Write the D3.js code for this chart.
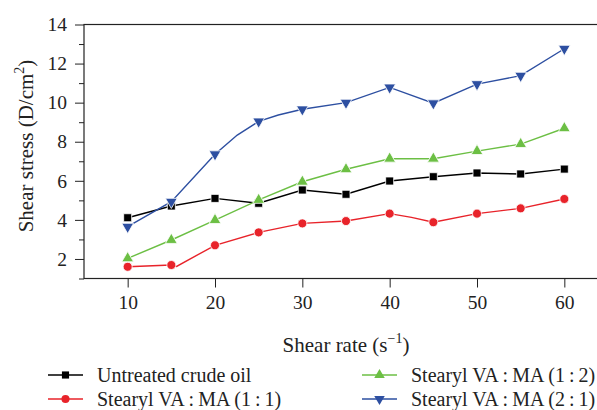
<!DOCTYPE html>
<html>
<head>
<meta charset="utf-8">
<script src="https://cdn.jsdelivr.net/npm/d3@7/dist/d3.min.js"></script>
<style>
  body { margin: 0; background: #fff; }
  svg { display: block; font-family: "Liberation Serif", "Times New Roman", serif; }
</style>
</head>
<body>
<svg id="chart" width="597" height="410"></svg>
<script>
// shear rate (s^-1)
var rates = [10, 15, 20, 25, 30, 35, 40, 45, 50, 55, 60];
var crude = [4.11, 4.71, 5.10, 4.85, 5.53, 5.31, 5.99, 6.21, 6.40, 6.35, 6.60];
var va11 = [1.60, 1.69, 2.70, 3.36, 3.82, 3.94, 4.32, 3.88, 4.32, 4.59, 5.07];
var va12 = [2.03, 2.97, 3.99, 5.02, 5.95, 6.59, 7.13, 7.13, 7.52, 7.88, 8.69];
var va21 = [3.65, 4.93, 7.36, 9.04, 9.66, 10.00, 10.78, 9.97, 10.95, 11.38, 12.76];
// extra unmarked bends in the drawn lines
var va11Bends = [[15.6, 1.62], [42.5, 4.13]];
var va21Bends = [[22.55, 8.34], [27.25, 9.37]];
var yTicks = [2, 4, 6, 8, 10, 12, 14];
var xTicks = [10, 20, 30, 40, 50, 60];

var series = [
  {name: 'Untreated crude oil', values: crude, bends: [], color: '#000000', sym: d3.symbolSquare, size: 64, rot: 0},
  {name: 'Stearyl VA\u2009:\u2009MA (1\u2009:\u20091)', values: va11, bends: va11Bends, color: '#e8232a', sym: d3.symbolCircle, size: 64, rot: 0},
  {name: 'Stearyl VA\u2009:\u2009MA (1\u2009:\u20092)', values: va12, bends: [], color: '#6cbf44', sym: d3.symbolTriangle, size: 60, rot: 0},
  {name: 'Stearyl VA\u2009:\u2009MA (2\u2009:\u20091)', values: va21, bends: va21Bends, color: '#2d4fa1', sym: d3.symbolTriangle, size: 60, rot: 180}
];

var svg = d3.select('#chart');
var plotL = 84, plotR = 608, plotT = 24.5, plotB = 278.5;

var x = d3.scaleLinear().domain([5, 65]).range([plotL, plotR]);
var y = d3.scaleLinear().domain([1, 14]).range([plotB, plotT]);

// frame
svg.append('rect')
    .attr('x', plotL).attr('y', plotT)
    .attr('width', plotR - plotL).attr('height', plotB - plotT)
    .attr('fill', 'none').attr('stroke', '#222').attr('stroke-width', 1.2);

function styleAxis(g) {
  g.attr('font-family', null).attr('font-size', null);
  g.select('.domain').remove();
  g.selectAll('line').attr('stroke', '#222');
  g.selectAll('text').attr('font-size', 19.5).attr('fill', '#222');
}

// y axis
svg.append('g')
    .attr('transform', 'translate(' + plotL + ',0)')
    .call(d3.axisLeft(y).tickValues(yTicks).tickSize(9).tickPadding(8).tickFormat(d3.format('d')))
    .call(styleAxis);
svg.append('g')
    .attr('transform', 'translate(' + plotL + ',0)')
    .call(d3.axisLeft(y).tickValues([1, 3, 5, 7, 9, 11, 13]).tickSize(5).tickFormat(''))
    .call(styleAxis);

// x axis
svg.append('g')
    .attr('transform', 'translate(0,' + plotB + ')')
    .call(d3.axisBottom(x).tickValues(xTicks).tickSize(9).tickPadding(8))
    .call(styleAxis);

// axis titles
var xt = svg.append('text')
    .attr('x', (plotL + plotR) / 2).attr('y', 352)
    .attr('text-anchor', 'middle').attr('font-size', 21).attr('fill', '#222');
xt.append('tspan').text('Shear rate (s');
xt.append('tspan').attr('font-size', 14).attr('dy', -9).text('\u22121');
xt.append('tspan').attr('dy', 9).text(')');

var yt = svg.append('text')
    .attr('transform', 'translate(33,146) rotate(-90)')
    .attr('text-anchor', 'middle').attr('font-size', 21).attr('fill', '#222');
yt.append('tspan').text('Shear stress (D/cm');
yt.append('tspan').attr('font-size', 14).attr('dy', -9).text('2');
yt.append('tspan').attr('dy', 9).text(')');

// lines and markers
var line = d3.line().x(function(d) { return x(d[0]); }).y(function(d) { return y(d[1]); });

series.forEach(function(s) {
  var pts = rates.map(function(r, i) { return [r, s.values[i]]; })
      .concat(s.bends)
      .sort(function(a, b) { return a[0] - b[0]; });
  svg.append('path')
      .datum(pts)
      .attr('d', line)
      .attr('fill', 'none')
      .attr('stroke', s.color)
      .attr('stroke-width', 1.4);
});

series.forEach(function(s) {
  svg.append('g').selectAll('path')
      .data(rates.map(function(r, i) { return [r, s.values[i]]; }))
      .enter().append('path')
        .attr('d', d3.symbol().type(s.sym).size(s.size))
        .attr('transform', function(d) {
          return 'translate(' + x(d[0]) + ',' + y(d[1]) + ') rotate(' + s.rot + ')';
        })
        .attr('fill', s.color)
        .attr('stroke', '#fff')
        .attr('stroke-width', 0.8);
});

// legend
var legendPos = [[48, 375], [48, 399], [362, 375], [362, 399]];
series.forEach(function(s, i) {
  var g = svg.append('g').attr('transform', 'translate(' + legendPos[i][0] + ',' + legendPos[i][1] + ')');
  g.append('line').attr('x1', 0).attr('x2', 35).attr('y1', 0).attr('y2', 0)
      .attr('stroke', s.color).attr('stroke-width', 1.4);
  g.append('path')
      .attr('d', d3.symbol().type(s.sym).size(s.size * 0.8))
      .attr('transform', 'translate(17.5,0) rotate(' + s.rot + ')')
      .attr('fill', s.color);
  g.append('text')
      .attr('x', 49).attr('y', 6.5)
      .attr('font-size', 20).attr('fill', '#222')
      .text(s.name);
});
</script>
</body>
</html>
